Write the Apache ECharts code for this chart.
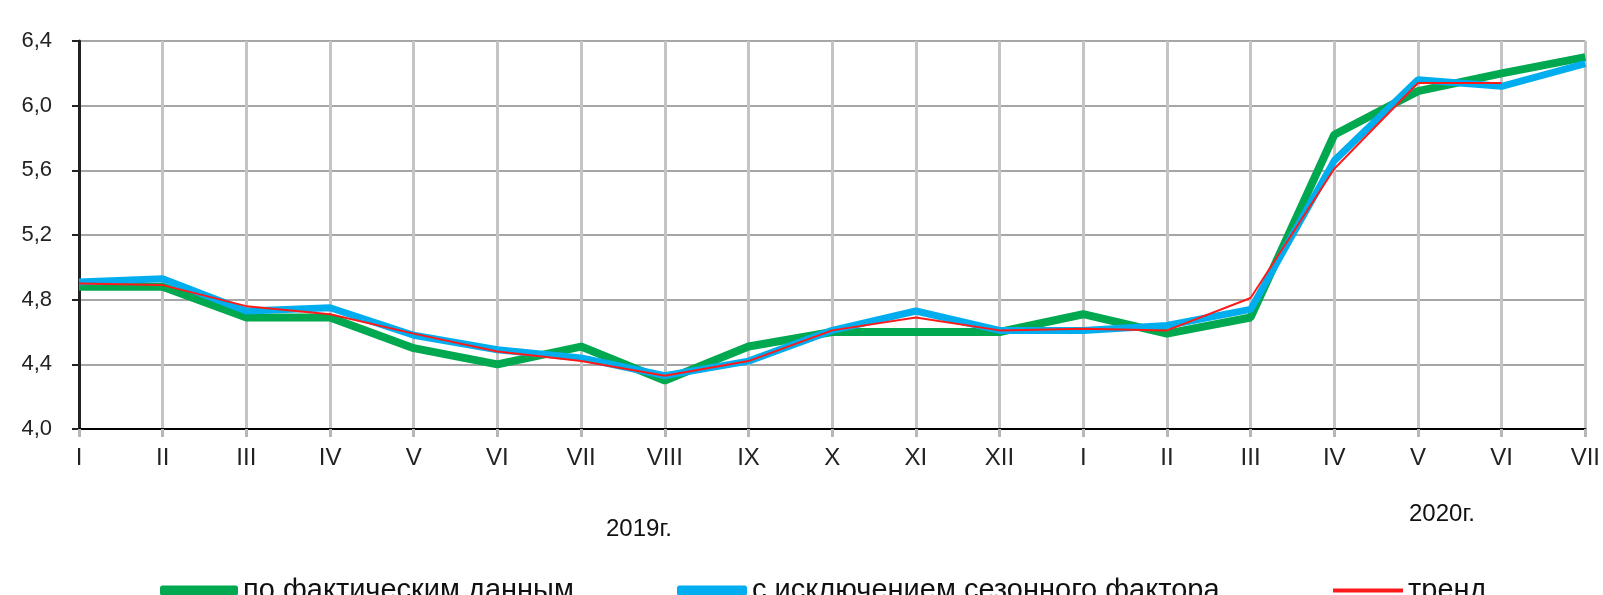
<!DOCTYPE html>
<html>
<head>
<meta charset="utf-8">
<script src="https://cdn.jsdelivr.net/npm/echarts@6/dist/echarts.min.js"></script>
<style>
  html, body { margin: 0; padding: 0; background: #fff; }
  #chart { width: 1603px; height: 595px; }
</style>
</head>
<body>
<div id="chart"></div>
<script>
// месяцы 2019-2020
var months = ["I","II","III","IV","V","VI","VII","VIII","IX","X","XI","XII","I","II","III","IV","V","VI","VII"];
var yTicks = [4.0, 4.4, 4.8, 5.2, 5.6, 6.0, 6.4];

var actual   = [4.88,4.88,4.69,4.69,4.50,4.40,4.51,4.30,4.51,4.60,4.60,4.60,4.71,4.59,4.69,5.82,6.09,6.20,6.30];
var seasonal = [4.91,4.93,4.73,4.75,4.58,4.49,4.44,4.33,4.42,4.61,4.73,4.61,4.61,4.64,4.74,5.66,6.16,6.12,6.26];
var trend    = [4.90,4.89,4.76,4.71,4.59,4.48,4.42,4.33,4.42,4.61,4.69,4.61,4.62,4.61,4.81,5.61,6.14,6.14,null];

var names = ["по фактическим данным", "с исключением сезонного фактора", "тренд"];

var chart = echarts.init(document.getElementById("chart"));
var font = "Liberation Sans, Arial, sans-serif";
var legendText = { fontFamily: font, fontSize: 29, color: "#111" };

var option = {
    animation: false,
    grid: { left: 79, right: 15, top: 41, bottom: 166 },
    legend: [
        { data: [{ name: names[0], icon: "roundRect" }], left: 155, top: 571, itemWidth: 78, itemHeight: 10, textStyle: legendText },
        { data: [{ name: names[1], icon: "roundRect" }], left: 672, top: 571, itemWidth: 70, itemHeight: 10, textStyle: legendText },
        { data: [{ name: names[2], icon: "rect" }], left: 1328, top: 571, itemWidth: 70, itemHeight: 4, textStyle: legendText }
    ],
    xAxis: {
        type: "category",
        data: months,
        boundaryGap: false,
        axisLine: { lineStyle: { color: "#000", width: 2 } },
        axisTick: { show: true, length: 8, lineStyle: { color: "#b8b8b8", width: 3 } },
        axisLabel: { fontFamily: font, fontSize: 24, color: "#222", margin: 17, interval: 0 },
        splitLine: { show: true, lineStyle: { color: "#c4c4c4", width: 3 } }
    },
    yAxis: {
        type: "value",
        min: yTicks[0],
        max: yTicks[yTicks.length - 1],
        interval: 0.4,
        axisLine: { show: true, lineStyle: { color: "#222", width: 3 } },
        axisTick: { show: true, length: 7, lineStyle: { color: "#222", width: 2 } },
        axisLabel: {
            fontFamily: font, fontSize: 22, color: "#222", margin: 27,
            formatter: function (v) { return v.toFixed(1).replace(".", ","); }
        },
        splitLine: { lineStyle: { color: "#a6a6a6", width: 2 } }
    },
    graphic: [
        { type: "text", left: 606, top: 517, style: { text: "2019г.", font: "24px " + font, fill: "#111" } },
        { type: "text", left: 1409, top: 502, style: { text: "2020г.", font: "24px " + font, fill: "#111" } }
    ],
    series: [
        { name: names[0], type: "line", data: actual, symbol: "none",
          lineStyle: { color: "#00a84f", width: 8 }, itemStyle: { color: "#00a84f" } },
        { name: names[1], type: "line", data: seasonal, symbol: "none",
          lineStyle: { color: "#00aeef", width: 7 }, itemStyle: { color: "#00aeef" } },
        { name: names[2], type: "line", data: trend, symbol: "none",
          lineStyle: { color: "#ff1a1a", width: 2 }, itemStyle: { color: "#ff1a1a" } }
    ]
};
chart.setOption(option);
</script>
</body>
</html>
